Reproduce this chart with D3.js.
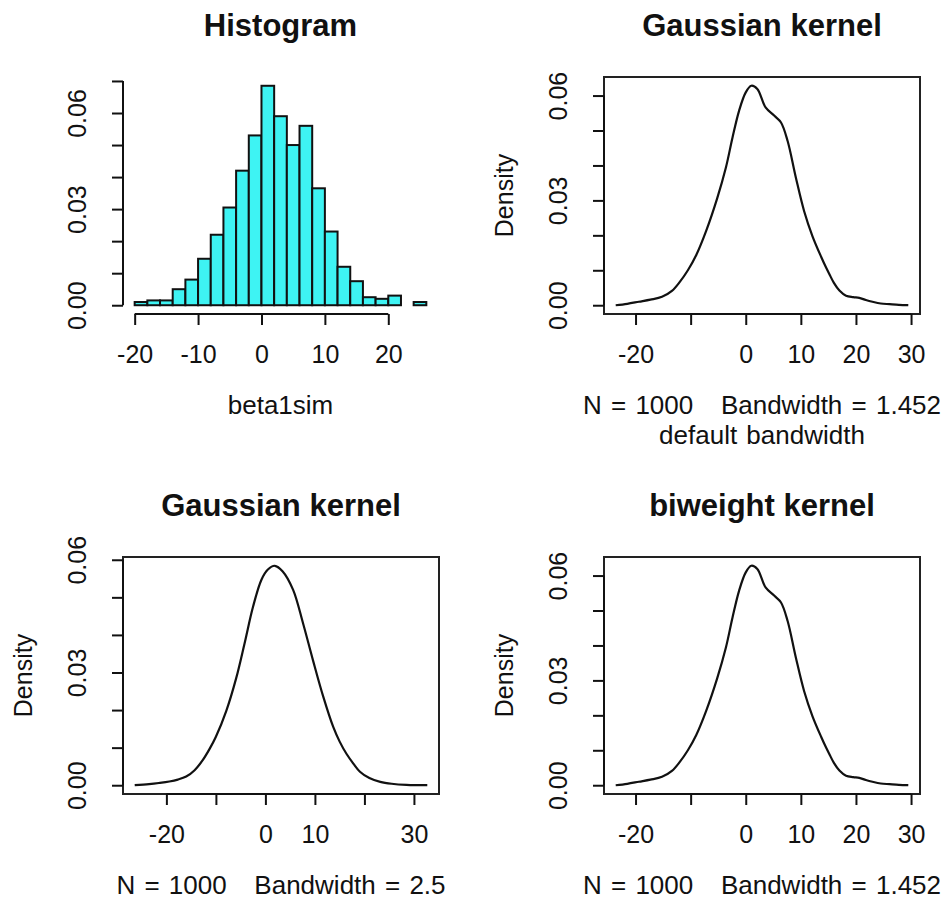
<!DOCTYPE html>
<html>
<head>
<meta charset="utf-8">
<script src="https://cdn.jsdelivr.net/npm/d3@7"></script>
<style>
  body { margin: 0; background: #fff; }
  svg text { font-family: "Liberation Sans", Arial, Helvetica, sans-serif; fill: #111; }
  .title { font-weight: bold; font-size: 31px; }
  .lab { font-size: 25px; }
  .sub { font-size: 26px; white-space: pre; word-spacing: 2px; }
</style>
</head>
<body>
<svg id="chart" width="948" height="899"></svg>
<script>
// histogram of beta1sim, bin width 2, freq = FALSE
var binEdges = [-20,-18,-16,-14,-12,-10,-8,-6,-4,-2,0,2,4,6,8,10,12,14,16,18,20,22,24,26];
var binDensity = [0.0010,0.0015,0.0015,0.0050,0.0080,0.0145,0.0220,0.0305,0.0420,0.0530,0.0685,
                  0.0590,0.0500,0.0560,0.0365,0.0230,0.0120,0.0075,0.0025,0.0020,0.0030,0.0000,0.0010];

// density(), gaussian / biweight, default bandwidth 1.452
var kdeX = [-23.6,-21.5,-19.4,-17.3,-15.2,-13.4,-12.0,-10.5,-9.0,-7.2,-5.2,-3.6,-2.4,-1.2,0.0,1.0,2.1,
            3.6,5.2,6.4,7.6,9.1,10.6,12.1,13.7,14.6,15.3,16.0,17.0,18.2,19.5,20.6,21.8,23.0,24.5,26.1,27.8,29.5];
var kdeY = [0.0000,0.0004,0.0010,0.0016,0.0024,0.0041,0.0066,0.0100,0.0143,0.0212,0.0305,0.0394,0.0480,
            0.0557,0.0609,0.0628,0.0619,0.0566,0.0542,0.0523,0.0470,0.0365,0.0269,0.0198,0.0138,0.0107,
            0.0085,0.0064,0.0042,0.0027,0.0023,0.0021,0.0015,0.0010,0.0005,0.0003,0.0001,0.0000];

// density(), gaussian, bw = 2.5
var kde25X = [-26.4,-23.5,-21.5,-19.4,-17.7,-16.0,-14.3,-12.7,-11.3,-10.0,-7.9,-5.9,-4.2,-2.5,-0.8,0.5,
              1.9,3.5,5.6,7.6,9.6,11.7,13.7,15.0,16.4,17.8,19.1,21.0,23.2,25.5,28.5,32.7];
var kde25Y = [0.0000,0.0003,0.0006,0.0010,0.0015,0.0023,0.0040,0.0066,0.0096,0.0129,0.0198,0.0285,0.0378,
              0.0475,0.0547,0.0574,0.0584,0.0569,0.0520,0.0431,0.0333,0.0235,0.0155,0.0116,0.0083,0.0057,
              0.0036,0.0019,0.0009,0.0004,0.0001,0.0000];

// ticks + labels (R drops the labels that would overlap)
var histXTicks = [-20,-10,0,10,20],
    histXLabels = ["-20","-10","0","10","20"],
    histYTicks = [0,0.01,0.02,0.03,0.04,0.05,0.06,0.07],
    histYLabels = ["0.00","","","0.03","","","0.06",""];
var densXTicks = [-20,-10,0,10,20,30],
    densXLabels = ["-20","","0","10","20","30"],
    dens25XLabels = ["-20","","0","10","","30"],
    densYTicks = [0,0.01,0.02,0.03,0.04,0.05,0.06],
    densYLabels = ["0.00","","","0.03","","","0.06"];

var svg = d3.select("#chart");
var tickLen = 11;

// R style range: data range + 4% each side
function rpad(lo, hi) {
  var p = (hi - lo) * 0.04;
  return [lo - p, hi + p];
}

function drawAxes(g, x, y, xt, xl, yt, yl, h) {
  var xa = g.append("g")
      .attr("transform", "translate(0," + h + ")")
      .call(d3.axisBottom(x).tickValues(xt).tickSize(tickLen)
        .tickFormat(function(d, i) { return xl[i]; }));
  var ya = g.append("g")
      .call(d3.axisLeft(y).tickValues(yt).tickSize(tickLen)
        .tickFormat(function(d, i) { return yl[i]; }));
  [xa, ya].forEach(function(a) {
    a.select(".domain").remove();
    a.attr("font-size", null).attr("font-family", null);
    a.selectAll(".tick line").attr("stroke", "#111").attr("stroke-width", 2);
    a.selectAll("text").attr("class", "lab").attr("fill", null);
  });
  xa.selectAll("text").attr("y", 49).attr("dy", 0);
  ya.selectAll("text")
      .attr("x", 0).attr("dy", 0)
      .attr("text-anchor", "middle")
      .attr("transform", "translate(-37,0) rotate(-90)");
  // axis lines only run from first to last tick
  g.append("line")
      .attr("x1", x(xt[0])).attr("x2", x(xt[xt.length - 1]))
      .attr("y1", h).attr("y2", h)
      .attr("stroke", "#111").attr("stroke-width", 2);
  g.append("line")
      .attr("x1", 0).attr("x2", 0)
      .attr("y1", y(yt[0])).attr("y2", y(yt[yt.length - 1]))
      .attr("stroke", "#111").attr("stroke-width", 2);
}

function titles(g, w, h, main, sub, sub2, ylab) {
  g.append("text").attr("class", "title")
      .attr("x", w / 2).attr("y", -41)
      .attr("text-anchor", "middle").text(main);
  g.append("text").attr("class", "sub")
      .attr("x", w / 2).attr("y", h + 100)
      .attr("text-anchor", "middle").text(sub);
  if (sub2) {
    g.append("text").attr("class", "sub")
        .attr("x", w / 2).attr("y", h + 130)
        .attr("text-anchor", "middle").text(sub2);
  }
  if (ylab) {
    g.append("text").attr("class", "lab")
        .attr("text-anchor", "middle")
        .attr("transform", "translate(-91," + (h / 2) + ") rotate(-90)")
        .text(ylab);
  }
}

/* histogram panel */
function renderHist(left, top, w, h) {
  var g = svg.append("g").attr("transform", "translate(" + left + "," + top + ")");
  var x = d3.scaleLinear().domain(rpad(binEdges[0], binEdges[binEdges.length - 1])).range([0, w]);
  var y = d3.scaleLinear().domain(rpad(0, d3.max(binDensity))).range([h, 0]);

  g.selectAll("rect.bar")
      .data(binDensity)
    .enter().append("rect")
      .attr("class", "bar")
      .attr("x", function(d, i) { return x(binEdges[i]); })
      .attr("width", function(d, i) { return x(binEdges[i + 1]) - x(binEdges[i]); })
      .attr("y", function(d) { return y(d); })
      .attr("height", function(d) { return y(0) - y(d); })
      .attr("fill", "#3ef3f3")
      .attr("stroke", "#111")
      .attr("stroke-width", 2);

  drawAxes(g, x, y, histXTicks, histXLabels, histYTicks, histYLabels, h);
  titles(g, w, h, "Histogram", "beta1sim");
}

/* density panel */
function renderDens(left, top, w, h, xs, ys, xlabs, main, sub, sub2) {
  var g = svg.append("g").attr("transform", "translate(" + left + "," + top + ")");
  var x = d3.scaleLinear().domain(rpad(d3.min(xs), d3.max(xs))).range([0, w]);
  var y = d3.scaleLinear().domain(rpad(0, d3.max(ys))).range([h, 0]);

  var line = d3.line()
      .x(function(d, i) { return x(xs[i]); })
      .y(function(d) { return y(d); })
      .curve(d3.curveCatmullRom.alpha(0.5));

  g.append("path")
      .datum(ys)
      .attr("d", line)
      .attr("fill", "none")
      .attr("stroke", "#111")
      .attr("stroke-width", 2.2);

  g.append("rect")
      .attr("width", w).attr("height", h)
      .attr("fill", "none")
      .attr("stroke", "#222")
      .attr("stroke-width", 2);

  drawAxes(g, x, y, densXTicks, xlabs, densYTicks, densYLabels, h);
  titles(g, w, h, main, sub, sub2, "Density");
}

renderHist(123, 77, 315, 237);
renderDens(604, 77, 316, 237, kdeX, kdeY, densXLabels,
  "Gaussian kernel", "N = 1000   Bandwidth = 1.452", "default bandwidth");
renderDens(123, 557, 316, 237, kde25X, kde25Y, dens25XLabels,
  "Gaussian kernel", "N = 1000   Bandwidth = 2.5");
renderDens(604, 557, 316, 237, kdeX, kdeY, densXLabels,
  "biweight kernel", "N = 1000   Bandwidth = 1.452");
</script>
</body>
</html>
